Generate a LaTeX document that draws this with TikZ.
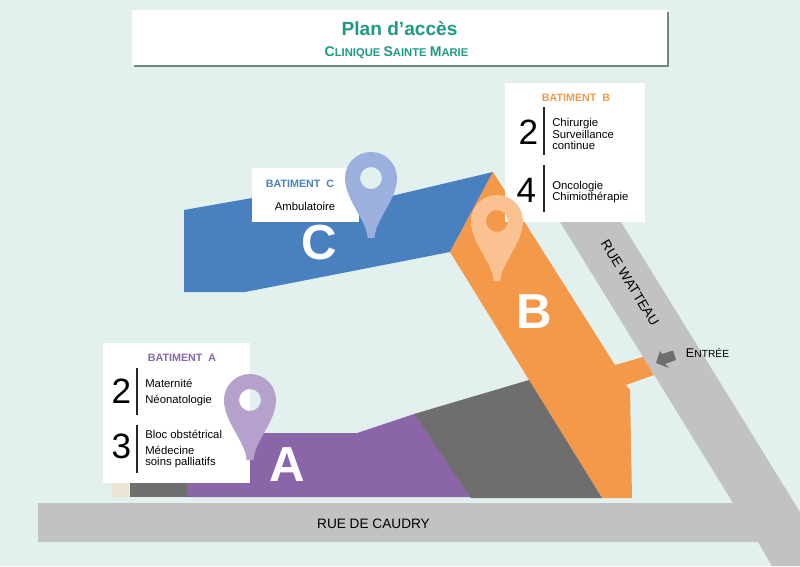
\documentclass[tikz,border=0pt]{standalone}
\usepackage{fontspec}
\setmainfont{Liberation Sans}
\definecolor{ground}{HTML}{E3F1EE}
\definecolor{road}{HTML}{C2C2C2}
\definecolor{teal}{HTML}{1E9A85}
\definecolor{titleshadow}{HTML}{6F8A82}
\definecolor{batA}{HTML}{8A66A8}
\definecolor{batB}{HTML}{F4994A}
\definecolor{batC}{HTML}{4880C0}
\definecolor{pinA}{HTML}{B5A1CC}
\definecolor{pinB}{HTML}{FBC291}
\definecolor{pinC}{HTML}{9BB0DC}
\definecolor{wall}{HTML}{6E6E6E}
\definecolor{annex}{HTML}{EAE5D3}
\tikzstyle{card} = [rectangle, fill=white, inner sep=0pt]
\tikzstyle{roadname} = [font=\fontsize{9.7}{11}\selectfont]
\tikzstyle{heading} = [font=\fontsize{7.6}{10}\selectfont\bfseries]
\tikzstyle{floor} = [font=\fontsize{25}{28}\selectfont]
\tikzstyle{service} = [anchor=west, inner sep=0pt, text height=6pt, text depth=1.5pt, font=\fontsize{8.05}{10}\selectfont]
\tikzstyle{letter} = [text=white, font=\fontsize{35}{38}\selectfont\bfseries]
\tikzstyle{rule} = [black!85, line width=0.95pt]
\newcommand{\mappin}[3]{%
  \fill[#3, even odd rule, shift={(#1,#2)}] (-3.5,60) .. controls (-4,42) and (-26,22) .. (-26,0)
    .. controls (-26,-14.4) and (-14.4,-26) .. (0,-26) .. controls (14.4,-26) and (26,-14.4) .. (26,0)
    .. controls (26,22) and (4,42) .. (3.5,60) -- cycle (0,0) circle[radius=11];}

\begin{document}
\begin{tikzpicture}[x=0.025cm, y=-0.025cm]

        % Background
        \fill[ground] (0,0) rectangle (800,566);
        \useasboundingbox (0,0) rectangle (800,566);

        % Roads
        \fill[road] (38,503) -- (733,503) -- (560,222) -- (621,222) -- (800,512) -- (800,566) -- (772,566) -- (758,542) -- (38,542) -- cycle;

        % Buildings
        \fill[annex] (112,483) rectangle (129,497);
        \fill[wall] (130,483) rectangle (187,497);
        \fill[batA] (187,483) -- (187,497) -- (471,497) -- (414,414) -- (357,433) -- (240,433) -- (240,483) -- cycle;
        \fill[batC] (184,210) -- (252,198) -- (345,207) -- (493,172) -- (450,252) -- (245,292) -- (184,292) -- cycle;
        \fill[batB] (493,172) -- (615,365) -- (643,357) -- (654,375) -- (626,385) -- (630,390) -- (632,498) -- (602,498) -- (529,380) -- (450,252) -- cycle;
        \fill[wall] (414,414) -- (529,380) -- (602,498) -- (471,498) -- cycle;

        % Building letters
        \node[letter] (letterA) at (287,465) {A};
        \node[letter] (letterB) at (534,312) {B};
        \node[letter] (letterC) at (319,243) {C};

        % Title box
        \fill[titleshadow] (134,12) rectangle (669,67);
        \node[card, minimum width=13.375cm, minimum height=1.375cm] (titlebox) at (399.5,37.5) {};
        \node[text=teal, font=\fontsize{13.6}{15}\selectfont\bfseries] (title) at (399.5,29) {Plan d’accès};
        \node[text=teal, font=\bfseries] (subtitle) at (396.5,52.5) {\fontsize{10}{12}\selectfont C\fontsize{8}{12}\selectfont LINIQUE \fontsize{10}{12}\selectfont S\fontsize{8}{12}\selectfont AINTE \fontsize{10}{12}\selectfont M\fontsize{8}{12}\selectfont ARIE};

        % Batiment A box
        \node[card, minimum width=3.675cm, minimum height=3.5cm] (cardA) at (176.5,413) {};
        \node[heading, text=batA] (headA) at (182,358) {BATIMENT\ \ A};
        \node[floor] (floorAtwo) at (121.5,391) {2};
        \node[floor] (floorAthree) at (121.5,446) {3};
        \draw[rule] (137,368) -- (137,415);
        \draw[rule] (137,425) -- (137,473);
        \node[service] (maternite) at (145,384.5) {Maternité};
        \node[service] (neonat) at (145,400.5) {Néonatologie};
        \node[service] (bloc) at (145,435.8) {Bloc obstétrical};
        \node[service] (medecine) at (145,451.8) {Médecine};
        \node[service] (soins) at (145,462.8) {soins palliatifs};

        % Batiment B box
        \node[card, minimum width=3.5cm, minimum height=3.475cm] (cardB) at (575,152.5) {};
        \node[heading, text=batB] (headB) at (576,97.5) {BATIMENT\ \ B};
        \node[floor] (floorBtwo) at (528.5,132) {2};
        \node[floor] (floorBfour) at (526.5,190) {4};
        \draw[rule] (544,107) -- (544,155);
        \draw[rule] (544,165) -- (544,212);
        \node[service] (chirurgie) at (552,123.8) {Chirurgie};
        \node[service] (surveillance) at (552,135) {Surveillance};
        \node[service] (continue) at (552,146.5) {continue};
        \node[service] (oncologie) at (552,186) {Oncologie};
        \node[service] (chimio) at (552,197) {Chimiothérapie};

        % Batiment C box
        \node[card, minimum width=2.675cm, minimum height=1.35cm] (cardC) at (305.5,195) {};
        \node[heading, text=batC] (headC) at (300,183.5) {BATIMENT\ \ C};
        \node[service, anchor=center] (ambu) at (305,207) {Ambulatoire};

        % Pins
        \mappin{250}{400}{pinA}
        \mappin{497}{221}{pinB}
        \mappin{371}{178}{pinC}

        % Road names
        \node[roadname] (caudry) at (373.5,523.5) {RUE DE CAUDRY};
        \node[roadname, rotate=-58.4] (watteau) at (630,283) {RUE WATTEAU};

        % Entrance
        \fill[wall] (656,363) -- (660,351) -- (662,354) -- (673,350.5) -- (676,360) -- (665,364) -- (669,368) -- cycle;
        \node (entree) at (707.5,353) {\fontsize{9}{10}\selectfont E\fontsize{7.3}{10}\selectfont NTRÉE};

    \end{tikzpicture}
\end{document}
